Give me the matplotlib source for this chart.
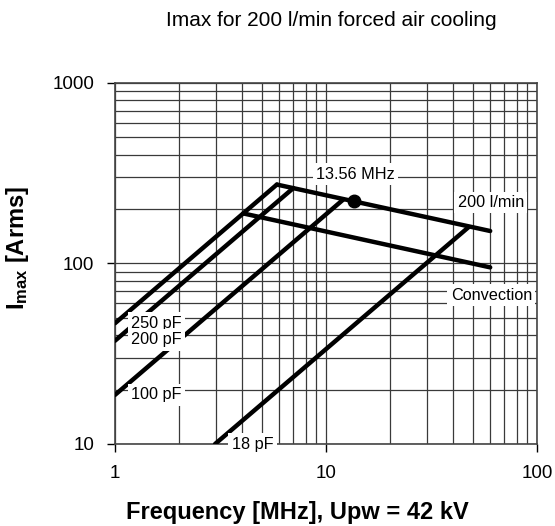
import matplotlib
matplotlib.use("Agg")
import matplotlib.pyplot as plt
from matplotlib.ticker import LogLocator, NullFormatter, FixedLocator, FixedFormatter

plt.rcParams['font.family'] = ['Liberation Sans', 'DejaVu Sans']
plt.rcParams['mathtext.fontset'] = 'custom'
plt.rcParams['mathtext.rm'] = 'Liberation Sans'
plt.rcParams['mathtext.bf'] = 'Liberation Sans:bold'

# Capacitance lines (start/end points)
cap_names = ["250 pF", "200 pF", "100 pF", "18 pF"]
cap_f = [[1.0, 5.85], [1.0, 7.0], [1.0, 12.1], [2.98, 47.5]]
cap_i = [[46.6, 273], [37.3, 261], [18.7, 226], [10.0, 159]]

# Cooling limit lines
cool_names = ["200 l/min", "Convection"]
cool_f = [[5.85, 60.0], [4.05, 60.0]]
cool_i = [[273, 151], [189, 95]]

# Marked point
dot_f = [13.56]
dot_i = [220]

# Labels: text, x, y
lab_text = ["250 pF", "200 pF", "100 pF", "18 pF", "13.56 MHz", "200 l/min", "Convection"]
lab_x = [1.19, 1.19, 1.19, 3.57, 8.97, 42.1, 39.0]
lab_y = [46.6, 37.7, 18.7, 10.0, 312, 217, 66.8]

xticks = [1, 10, 100]
yticks = [10, 100, 1000]

fig = plt.figure(figsize=(5.55, 5.26), dpi=100)
ax = fig.add_axes([115/555, 1-444/526, (537-115)/555, (444-82.7)/526])
ax.set_xscale('log')
ax.set_yscale('log')
ax.set_xlim(1, 100)
ax.set_ylim(10, 1000)

ax.xaxis.set_major_locator(FixedLocator(xticks))
ax.xaxis.set_major_formatter(FixedFormatter([str(t) for t in xticks]))
ax.yaxis.set_major_locator(FixedLocator(yticks))
ax.yaxis.set_major_formatter(FixedFormatter([str(t) for t in yticks]))
ax.xaxis.set_minor_locator(LogLocator(base=10, subs=range(2, 10)))
ax.yaxis.set_minor_locator(LogLocator(base=10, subs=range(2, 10)))
ax.xaxis.set_minor_formatter(NullFormatter())
ax.yaxis.set_minor_formatter(NullFormatter())
ax.tick_params(which='minor', length=0)
ax.tick_params(which='major', length=6, width=1, direction='out', labelsize=13.5, pad=9, color='black')

ax.grid(True, which='both', color='#3a3a3a', linewidth=0.9)
for s in ax.spines.values():
    s.set_color('#444444')
    s.set_linewidth(1.2)

for f, i in zip(cap_f, cap_i):
    ax.plot(f, i, color='black', lw=3.2, solid_capstyle='round', zorder=3)
for f, i in zip(cool_f, cool_i):
    ax.plot(f, i, color='black', lw=3.2, solid_capstyle='round', zorder=3)
ax.plot(dot_f, dot_i, 'o', color='black', ms=9, zorder=4)

for t, x, y in zip(lab_text, lab_x, lab_y):
    ax.text(x, y, t, fontsize=11.7, ha='left', va='center', zorder=5,
            bbox=dict(facecolor='white', edgecolor='none', pad=2.5))

fig.text(331/555, 1-20/526, "Imax for 200 l/min forced air cooling", ha='center', va='center', fontsize=15)
fig.text(297/555, 1-512/526, "Frequency [MHz], Upw = 42 kV", ha='center', va='center', fontsize=17, fontweight='bold')
fig.text(18/555, 1-248/526, r"$\mathbf{I_{max}}$ [Arms]", ha='center', va='center', fontsize=17, fontweight='bold', rotation=90)

fig.savefig("out.png", dpi=100)
